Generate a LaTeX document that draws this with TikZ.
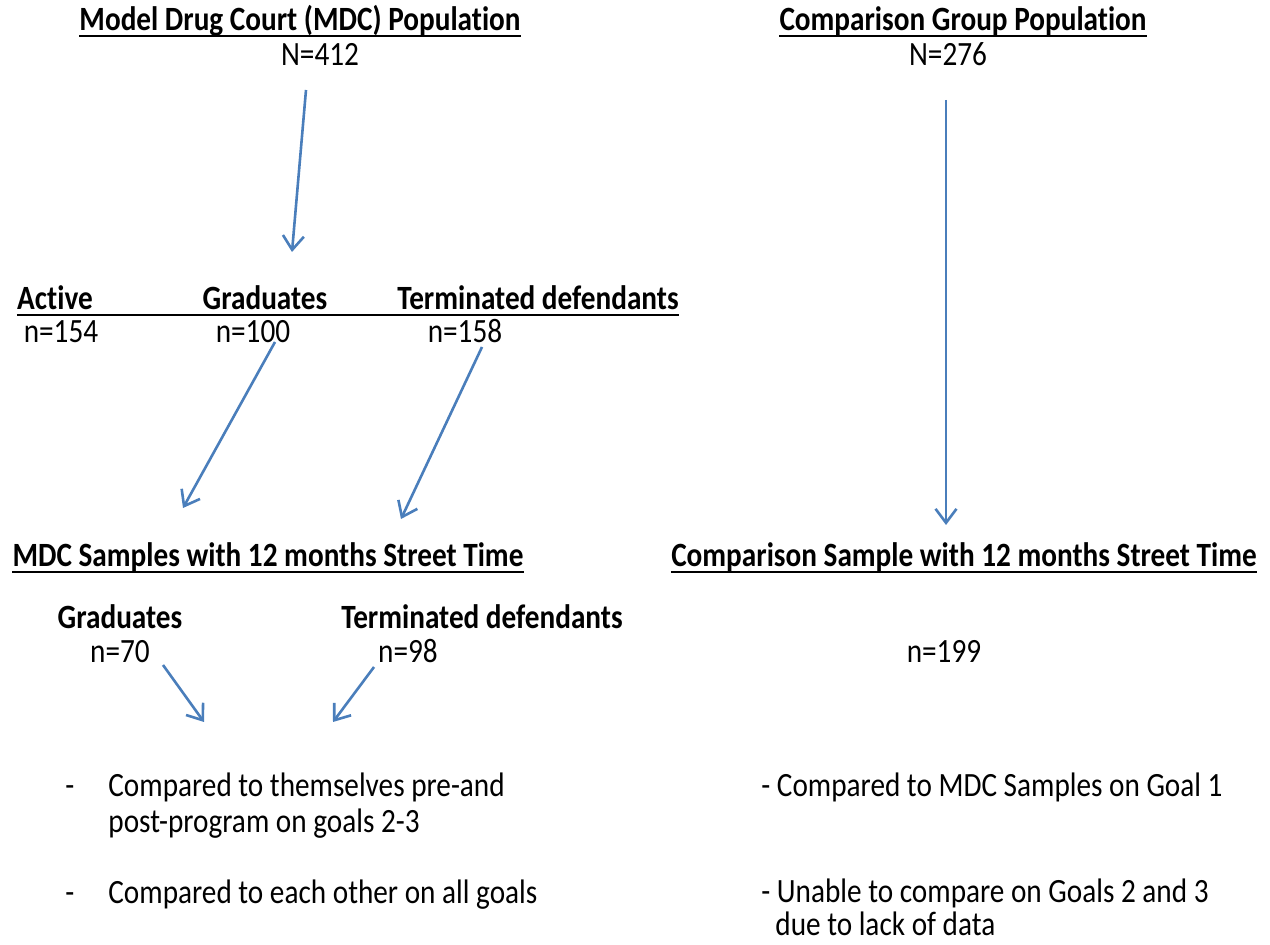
\documentclass[tikz,border=0pt]{standalone}
\usepackage{fontspec}
\setmainfont{Carlito}[FakeStretch=0.86,Ligatures=NoCommon]
\usepackage{xcolor}
\usepackage{tikz}
\usetikzlibrary{arrows.meta}
\usetikzlibrary{calc}
\definecolor{wordblue}{RGB}{74,126,187}
\newcommand{\diagsize}{\fontsize{17}{20}\selectfont}
\tikzstyle{heading}=[font=\diagsize\bfseries,anchor=base,inner sep=0pt]
\tikzstyle{count}=[font=\diagsize,anchor=base,inner sep=0pt]
\tikzstyle{txt}=[font=\diagsize,anchor=base west,inner sep=0pt]
\tikzstyle{flow} = [draw,wordblue,line width=1.3pt,-{Straight Barb[length=7pt,width=10.5pt]}]
\tikzstyle{uline} = [draw,line width=1.3pt]

\begin{document}
\begin{tikzpicture}[x=0.5pt,y=-0.5pt]
\useasboundingbox (0,0) rectangle (1270,945);

 %Populations
   \foreach \x/\y/\name/\label in {300/31/mdcpop/{Model Drug Court (MDC) Population}, 963/31/cmppop/{Comparison Group Population}}
          \node[heading] (\name) at (\x,\y) {\label};

   \foreach \x/\y/\name/\label in {320/66/mdcN/{N=412}, 948/66/cmpN/{N=276}}
          \node[count] (\name) at (\x,\y) {\label};

 %MDC groups
   \foreach \x/\y/\name/\label in {55/310/active/Active, 265/310/grad/Graduates, 538/310/term/{Terminated defendants}}
          \node[heading] (\name) at (\x,\y) {\label};

   \foreach \x/\y/\name/\label in {61/343/nact/{n=154}, 253/343/ngrad/{n=100}, 465/343/nterm/{n=158}}
          \node[count] (\name) at (\x,\y) {\label};

 %Samples
   \foreach \x/\y/\name/\label in {268/567/mdcsmp/{MDC Samples with 12 months Street Time}, 964/567/cmpsmp/{Comparison Sample with 12 months Street Time}}
          \node[heading] (\name) at (\x,\y) {\label};

   \foreach \x/\y/\name/\label in {120/629/sgrad/Graduates, 482/629/sterm/{Terminated defendants}}
          \node[heading] (\name) at (\x,\y) {\label};

   \foreach \x/\y/\name/\label in {120/663/nsgrad/{n=70}, 408/663/nsterm/{n=98}, 944/663/nscmp/{n=199}}
          \node[count] (\name) at (\x,\y) {\label};

 %underlines
   \foreach \name in {mdcpop, cmppop, mdcsmp, cmpsmp}
          \path[uline] ([yshift=-2.5pt]\name.base west) -- ([yshift=-2.5pt]\name.base east);
   \path[uline] ([yshift=-2.5pt]active.base west) -- ([yshift=-2.5pt]term.base east);

 %Findings
   \foreach \x/\y/\name/\label in {65/797/dashA/{-}, 108/797/finA/{Compared to themselves pre-and}, 108/833/finB/{post-program on goals 2-3},
          65/904/dashC/{-}, 108/904/finC/{Compared to each other on all goals},
          761/797/finD/{- Compared to MDC Samples on Goal 1}, 761/903/finE/{- Unable to compare on Goals 2 and 3}, 775/936/finF/{due to lack of data}}
          \node[txt] (\name) at (\x,\y) {\label};

 %arrows
   \foreach \x/\y/\name in {306/90/pA, 292/252/pB, 946/100/cA, 946/525/cB, 275/342/gA, 183/508/gB, 482/347/tA, 401/519/tB,
          163/665/sA, 204/722/sB, 374/667/uA, 333/722/uB}
          \coordinate (\name) at (\x,\y);

   \foreach \source/ \dest in {pA/pB, cA/cB, gA/gB, tA/tB, sA/sB, uA/uB}
         \path[flow] (\source) -- (\dest);

\end{tikzpicture}
\end{document}
